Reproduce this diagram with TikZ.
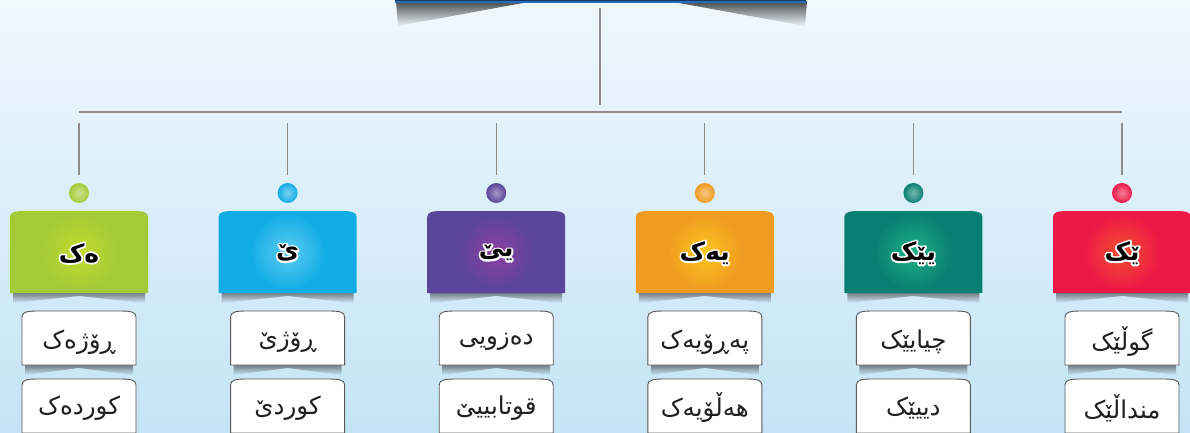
\documentclass[tikz,border=0pt]{standalone}
\usepackage{fontspec}
\usetikzlibrary{calc,fadings}
\TeXXeTstate=1
\newfontfamily\arabicfont[Script=Arabic]{DejaVu Sans}
\definecolor{bgtop}{HTML}{F0F8FD}
\definecolor{bgbot}{HTML}{C4E4F5}
\definecolor{navy}{HTML}{0E3A6B}
\definecolor{navyline}{HTML}{2A6BB0}
\definecolor{cA}{HTML}{A3CB38}\definecolor{gA}{HTML}{C6DA2C}
\definecolor{cB}{HTML}{12ADE4}\definecolor{gB}{HTML}{5DCDF2}
\definecolor{cC}{HTML}{5A459B}\definecolor{gC}{HTML}{8E3FA2}
\definecolor{cD}{HTML}{F09B21}\definecolor{gD}{HTML}{F9C71E}
\definecolor{cE}{HTML}{097F73}\definecolor{gE}{HTML}{1FB385}
\definecolor{cF}{HTML}{EE1847}\definecolor{gF}{HTML}{F4502E}
% black text with a white outline: a stroked white copy below the black text
\newcommand\haloed[1]{{\color{white}\special{pdf:literal direct 1 J 1 j 3.6 w 2 Tr}\rlap{\beginR #1\endR}\special{pdf:literal direct 0 Tr 1 w}}\beginR #1\endR}
\newcommand\bookpath[1]{(#1.south west) -- ($(#1.north west)+(0,6)$) .. controls ($(#1.north west)+(0,1)$) and ($(#1.north west)+(5,0)$) .. ($(#1.north west)+(16,0)$) -- ($(#1.north east)+(-16,0)$) .. controls ($(#1.north east)+(-5,0)$) and ($(#1.north east)+(0,1)$) .. ($(#1.north east)+(0,6)$) -- (#1.south east) -- cycle}
\newcommand\shadowpath[1]{($(#1.south west)+(3,0)$) -- ($(#1.south east)+(-3,0)$) -- ($(#1.south east)+(-3,10)$) -- ($(#1.south)+(0,3)$) -- ($(#1.south west)+(3,10)$) -- cycle}
\tikzset{
  geom/.style={inner sep=0pt, outer sep=0pt},
  headbox/.style={geom, minimum width=138pt, minimum height=82pt},
  wordbox/.style={geom, minimum width=114pt, minimum height=54pt},
  wordtext/.style={font=\arabicfont\fontsize{24.5}{28}\selectfont, text=black!88},
  headtext/.style={font=\arabicfont\bfseries\fontsize{25}{29}\selectfont, text=black},
  conn/.style={draw=black!45, line width=1.1pt},
  dot/.style={circle, geom, minimum size=20pt},
  boxline/.style={draw=black!65, line width=0.9pt},
  shadowfill/.style={fill=black, opacity=0.45, path fading=south},
}
\begin{document}
\begin{tikzpicture}[x=1pt,y=-1pt]
\useasboundingbox (0,0) rectangle (1190,432);
\clip (0,0) rectangle (1190,432);
\shade[top color=bgtop, bottom color=bgbot] (0,0) rectangle (1190,432);
% top title box (only its lower edge is visible)
\fill[black, opacity=0.7, path fading=south] (396,1) -- (534,1) -- (398,26) -- cycle;
\fill[black, opacity=0.7, path fading=south] (807,1) -- (668,1) -- (805,26) -- cycle;
\node[geom, fill=navy, minimum width=411pt, minimum height=40pt] (top) at (600.5,-18) {};
\draw[navyline, line width=1.4pt] (top.south west) -- (top.south east);
% trunk and bus
\coordinate (c0) at (600,8);
\coordinate (c1) at (600,105);
\draw[conn] (c0) -- (c1);
\coordinate (busL) at (79,112);
\coordinate (busR) at (1122,112);
\draw[conn] (busL) -- (busR);
% columns
\foreach \i/\x/\c/\g/\h/\wa/\wb in {
  1/79/cA/gA/ەک/ڕۆژەک/کوردەک,
  2/287.6/cB/gB/ێ/ڕۆژێ/کوردێ,
  3/496.2/cC/gC/یێ/دەزویی/قوتابییێ,
  4/704.8/cD/gD/یەک/پەڕۆیەک/هەڵۆیەک,
  5/913.4/cE/gE/یێک/چیایێک/دییێک,
  6/1122/cF/gF/ێک/گوڵێک/منداڵێک}{
  \coordinate (d\i a) at (\x,123);
  \coordinate (d\i b) at (\x,175);
  \draw[conn] (d\i a) -- (d\i b);
  \node[dot, inner color=\c!55!white, outer color=\c] (p\i) at (\x,193) {};
  \node[headbox] (h\i) at (\x,252) {};
  \fill[shadowfill] \shadowpath{h\i};
  \fill[\c] \bookpath{h\i};
  \shade[inner color=\g, outer color=\c] (h\i.center) circle (38);
  \node[headtext] (t\i) at ($(h\i.center)+(0,1)$) {\haloed{\h}};
  \node[wordbox] (w\i a) at (\x,338) {};
  \fill[shadowfill] \shadowpath{w\i a};
  \fill[white] \bookpath{w\i a};
  \draw[boxline] \bookpath{w\i a};
  \node[wordtext] (u\i a) at ($(w\i a.center)+(0,4)$) {\beginR \wa\endR};
  \node[wordbox] (w\i b) at (\x,406) {};
  \fill[white] \bookpath{w\i b};
  \draw[boxline] \bookpath{w\i b};
  \node[wordtext] (u\i b) at ($(w\i b.center)+(0,2)$) {\beginR \wb\endR};
}
\end{tikzpicture}
\end{document}
